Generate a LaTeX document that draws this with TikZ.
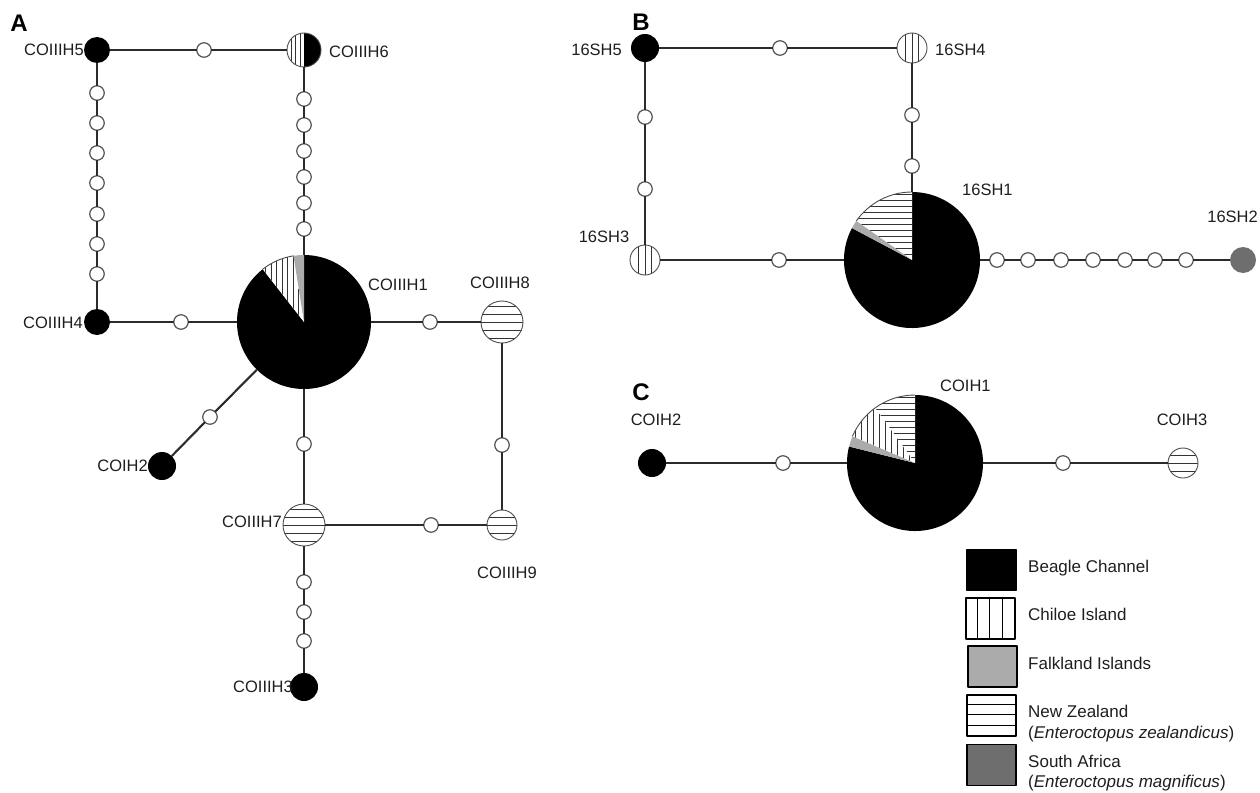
\documentclass[tikz,border=0pt]{standalone}
\usepackage{fontspec}
\setmainfont{Liberation Sans}
\definecolor{falk}{HTML}{ABABAB}
\definecolor{safr}{HTML}{6E6E6E}
\definecolor{linec}{HTML}{2B2B2B}
\definecolor{mutc}{HTML}{555555}
\definecolor{labc}{HTML}{1E1E1E}
\tikzset{
 link/.style={draw=linec, line width=2.1pt},
 mut/.style={circle, draw=mutc, fill=white, line width=1.2pt, minimum size=14.5pt, inner sep=0pt, outer sep=0pt},
 hap/.style={circle, minimum size=#1, inner sep=0pt, outer sep=0pt},
 lbl/.style={font=\fontsize{16.5}{19}\selectfont, text=labc, inner sep=0pt},
 panel/.style={font=\fontsize{24}{28}\selectfont\bfseries, inner sep=0pt},
 legbox/.style={draw=black, line width=1.4pt, minimum width=49pt, minimum height=41pt, inner sep=0pt},
 legtxt/.style={font=\fontsize{17}{20}\selectfont, text=labc, inner sep=0pt, anchor=base west},
 hatch/.style={draw=black!80, line width=0.9pt},
 rim/.style={draw=black!70, line width=0.9pt},
}
\newcommand\pwedge[6]{\fill[#6] (#1,#2) -- ++(#4:#3) arc[start angle=#4, end angle=#5, radius=#3] -- cycle;}
\newcommand\pwedgehatch[7]{%
 \begin{scope}
 \clip (#1,#2) -- ++(#4:#3) arc[start angle=#4, end angle=#5, radius=#3] -- cycle;
 \fill[white] (#1,#2) circle[radius=#3];
 \ifx V#6
  \foreach \k in {-12,...,12} \draw[hatch] ({#1+\k*#7},{#2-#3}) -- ({#1+\k*#7},{#2+#3});
 \else
  \foreach \k in {-12,...,12} \draw[hatch] ({#1-#3},{#2+\k*#7}) -- ({#1+#3},{#2+\k*#7});
 \fi
 \end{scope}
 \draw[rim] (#1,#2) ++(#4:#3) arc[start angle=#4, end angle=#5, radius=#3];}
\newcommand\hcircle[4]{%
 \begin{scope}\clip (#1,#2) circle[radius=#3];
 \foreach \o in {#4} \draw[hatch] ({#1-#3},{#2+\o}) -- ({#1+#3},{#2+\o});
 \end{scope}
 \draw[rim] (#1,#2) circle[radius=#3];}
\newcommand\vcircle[4]{%
 \begin{scope}\clip (#1,#2) circle[radius=#3];
 \foreach \o in {#4} \draw[hatch] ({#1+\o},{#2-#3}) -- ({#1+\o},{#2+#3});
 \end{scope}
 \draw[rim] (#1,#2) circle[radius=#3];}
\begin{document}
\begin{tikzpicture}[x=1pt,y=1pt,line join=round]
\useasboundingbox (0,0) rectangle (1260,-792);

% ================= Panel A =================
\node[panel] (pA) at (19,-23) {A};
\node[hap=26pt, fill=black] (H5) at (97,-50) {};
\node[hap=34pt] (H6) at (304,-50) {};
\fill[black] (304,-50) ++(-90:17) arc[start angle=-90, end angle=90, radius=17] -- cycle;
\vcircle{304}{-50}{17}{-13,-8.5,-4}
\node[hap=26pt, fill=black] (H4) at (97,-322) {};
\node[hap=134pt] (PA) at (304,-322) {};
\pwedge{304}{-322}{67}{128}{450}{black}
\pwedgehatch{304}{-322}{67}{99}{128}{V}{5.5}
\pwedge{304}{-322}{67}{90}{99}{falk}
\node[hap=42pt] (H8) at (502,-322) {};
\hcircle{502}{-322}{21}{-16,-8,0,8,16}
\node[hap=30pt] (H9) at (502,-525) {};
\hcircle{502}{-525}{15}{-8,0,8}
\node[hap=42pt] (H7) at (304,-525) {};
\hcircle{304}{-525}{21}{-16,-8,0,8,16}
\node[hap=28pt, fill=black] (H3) at (304,-687) {};
\node[hap=28pt, fill=black] (CA2) at (162,-466) {};

\node[mut] (sA1) at (204,-50) {};
\foreach \y [count=\i] in {93,123,153,183,214,244,274} \node[mut] (la\i) at (97,-\y) {};
\foreach \y [count=\i] in {99,125,151,177,203,229} \node[mut] (ma\i) at (304,-\y) {};
\node[mut] (sA2) at (181,-322) {};
\node[mut] (sA3) at (430,-322) {};
\node[mut] (sA4) at (502,-445) {};
\node[mut] (sA5) at (431,-525) {};
\node[mut] (sA6) at (304,-444) {};
\foreach \y [count=\i] in {582,612,641} \node[mut] (da\i) at (304,-\y) {};
\node[mut] (sA7) at (210,-417) {};

\draw[link] (H5) -- (sA1) -- (H6);
\draw[link] (H5) -- (la1);
\foreach \i [evaluate=\i as \j using int(\i+1)] in {1,...,6} \draw[link] (la\i) -- (la\j);
\draw[link] (la7) -- (H4);
\draw[link] (H6) -- (ma1);
\foreach \i [evaluate=\i as \j using int(\i+1)] in {1,...,5} \draw[link] (ma\i) -- (ma\j);
\draw[link] (ma6) -- (PA);
\draw[link] (H4) -- (sA2) -- (PA);
\draw[link] (PA) -- (sA3) -- (H8);
\draw[link] (H8) -- (sA4) -- (H9);
\draw[link] (H9) -- (sA5) -- (H7);
\draw[link] (PA) -- (sA6) -- (H7);
\draw[link] (H7) -- (da1) -- (da2) -- (da3) -- (H3);
\draw[link] (PA) -- (sA7) -- (CA2);

\node[lbl, anchor=east] (tH5) at (84,-50) {COIIIH5};
\node[lbl, anchor=west] (tH6) at (329,-52) {COIIIH6};
\node[lbl, anchor=east] (tH4) at (83,-323) {COIIIH4};
\node[lbl, anchor=west] (tH1) at (368,-285) {COIIIH1};
\node[lbl] (tH8) at (500,-283) {COIIIH8};
\node[lbl] (tH9) at (507,-573) {COIIIH9};
\node[lbl, anchor=east] (tH7) at (282,-522) {COIIIH7};
\node[lbl, anchor=east] (tH3) at (293,-687) {COIIIH3};
\node[lbl, anchor=east] (tCA2) at (148,-466) {COIH2};

% ================= Panel B =================
\node[panel] (pB) at (641,-22) {B};
\node[hap=28pt, fill=black] (S5) at (645,-48) {};
\node[hap=30pt] (S4) at (912,-48) {};
\vcircle{912}{-48}{15}{-6.7,0,6.7}
\node[hap=30pt] (S3) at (645,-260) {};
\vcircle{645}{-260}{15}{-6.7,0,6.7}
\node[hap=136pt] (PB) at (912,-260) {};
\pwedge{912}{-260}{68}{152}{450}{black}
\pwedgehatch{912}{-260}{68}{90}{145}{H}{6}
\pwedge{912}{-260}{68}{145}{152}{falk}
\node[hap=26pt, fill=safr] (S2) at (1243,-260) {};

\node[mut] (sB1) at (780,-48) {};
\node[mut] (sB2) at (912,-115) {};
\node[mut] (sB3) at (912,-166) {};
\node[mut] (sB4) at (645,-117) {};
\node[mut] (sB5) at (645,-189) {};
\node[mut] (sB6) at (779,-260) {};
\foreach \x [count=\i] in {997,1028,1061,1093,1125,1155,1186} \node[mut] (rb\i) at (\x,-260) {};

\draw[link] (S5) -- (sB1) -- (S4);
\draw[link] (S4) -- (sB2) -- (sB3) -- (PB);
\draw[link] (S5) -- (sB4) -- (sB5) -- (S3);
\draw[link] (S3) -- (sB6) -- (PB);
\draw[link] (PB) -- (rb1);
\foreach \i [evaluate=\i as \j using int(\i+1)] in {1,...,6} \draw[link] (rb\i) -- (rb\j);
\draw[link] (rb7) -- (S2);

\node[lbl, anchor=east] (tS5) at (622,-50) {16SH5};
\node[lbl, anchor=west] (tS4) at (935,-50) {16SH4};
\node[lbl, anchor=west] (tS1) at (962,-190) {16SH1};
\node[lbl] (tS3) at (604,-237) {16SH3};
\node[lbl, anchor=east] (tS2) at (1258,-217) {16SH2};

% ================= Panel C =================
\node[panel] (pC) at (641,-392) {C};
\node[hap=28pt, fill=black] (C2) at (652,-463) {};
\node[hap=136pt] (PC) at (915,-463) {};
\pwedge{915}{-463}{68}{166}{450}{black}
\pwedgehatch{915}{-463}{68}{90}{126}{H}{6}
\pwedgehatch{915}{-463}{68}{126}{157}{V}{6}
\pwedge{915}{-463}{68}{157}{166}{falk}
\node[hap=30pt] (C3) at (1183,-463) {};
\hcircle{1183}{-463}{15}{-8,0,8}

\node[mut] (sC1) at (783,-463) {};
\node[mut] (sC2) at (1063,-463) {};
\draw[link] (C2) -- (sC1) -- (PC) -- (sC2) -- (C3);

\node[lbl, anchor=west] (tC1) at (940,-386) {COIH1};
\node[lbl] (tC2) at (656,-420) {COIH2};
\node[lbl] (tC3) at (1182,-420) {COIH3};

% ================= Legend =================
\node[legbox, fill=black] (L1) at (991.5,-570) {};
\node[legbox, fill=white] (L2) at (990.5,-618.5) {};
\foreach \o in {12.25,24.5,36.75} \draw[black, line width=1.1pt] ([xshift=\o pt]L2.north west) -- ([xshift=\o pt]L2.south west);
\node[legbox, fill=falk] (L3) at (992.5,-666.5) {};
\node[legbox, fill=white] (L4) at (991.5,-715.5) {};
\foreach \o in {10.25,20.5,30.75} \draw[black, line width=1.1pt] ([yshift=-\o pt]L4.north west) -- ([yshift=-\o pt]L4.north east);
\node[legbox, fill=safr] (L5) at (991.5,-765) {};

\node[legtxt] (T1) at (1028,-572) {Beagle Channel};
\node[legtxt] (T2) at (1028,-620) {Chiloe Island};
\node[legtxt] (T3) at (1028,-669) {Falkland Islands};
\node[legtxt] (T4a) at (1028,-717) {New Zealand};
\node[legtxt] (T4b) at (1028,-738) {(\textit{Enteroctopus zealandicus})};
\node[legtxt] (T5a) at (1028,-767) {South Africa};
\node[legtxt] (T5b) at (1028,-787) {(\textit{Enteroctopus magnificus})};
\end{tikzpicture}
\end{document}
